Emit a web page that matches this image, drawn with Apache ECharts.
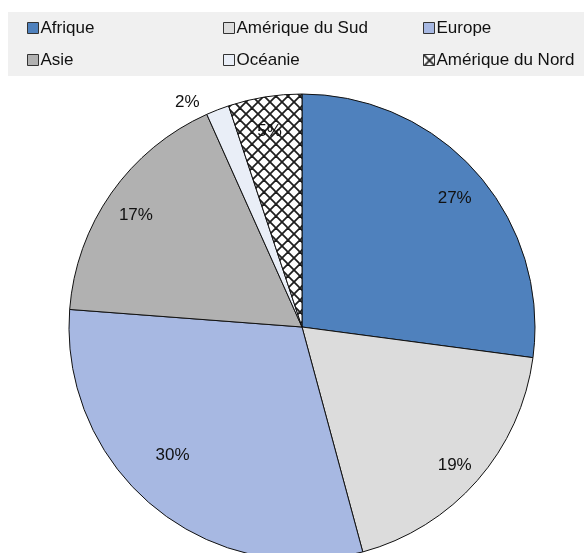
<!DOCTYPE html>
<html>
<head>
<meta charset="utf-8">
<script src="https://cdn.jsdelivr.net/npm/echarts@6/dist/echarts.min.js"></script>
<style>
html,body{margin:0;padding:0;background:#fff}
#chart{width:584px;height:553px}
</style>
</head>
<body>
<div id="chart"></div>
<script>
const regions=['Afrique','Amérique du Sud','Europe','Asie','Océanie','Amérique du Nord'];
const shares=[27.1,18.7,30.4,17.1,1.6,5.1];
const colors=['#4F81BD','#DCDCDC','#A7B8E2','#B1B1B1','#E9EEF7',null];
const legendCols=[['Afrique','Asie'],['Amérique du Sud','Océanie'],['Europe','Amérique du Nord']];

function hatch(){
 let c=document.createElement('canvas');
 c.width=12;c.height=12;
 let g=c.getContext('2d');
 g.fillStyle='#fff';g.fillRect(0,0,12,12);
 g.strokeStyle='#1e1e1e';g.lineWidth=1.8;
 for(let k=-12;k<=12;k+=12){
  g.beginPath();g.moveTo(k-2,-2);g.lineTo(k+14,14);g.stroke();
  g.beginPath();g.moveTo(k+14,-2);g.lineTo(k-2,14);g.stroke();
 }
 return c;
}
const pattern={image:hatch(),repeat:'repeat'};

const font='Liberation Sans, Arial, sans-serif';
const pct=p=>Math.round(p.percent)+'%';

const mainData=regions.map((n,i)=>({
 name:n,value:shares[i],
 itemStyle:{color:colors[i]||pattern},
 label:{show:n==='Océanie'}
}));
const labelData=regions.map((n,i)=>({
 name:n,value:shares[i],
 label:{show:n!=='Océanie'}
}));

window.onload=function(){
 var c=echarts.init(document.getElementById('chart'));
 c.setOption({
  animation:false,
  graphic:[{type:'rect',z:-10,shape:{x:8,y:12,width:576,height:64},style:{fill:'#F0F0F0'}}],
  legend:legendCols.map((d,i)=>({
   data:d,orient:'vertical',left:[27,223,423][i],top:18,padding:0,
   itemWidth:11,itemHeight:11,itemGap:12,icon:'rect',
   itemStyle:{borderColor:'#333',borderWidth:1},
   textStyle:{fontFamily:font,fontSize:17,color:'#111',lineHeight:20,padding:[0,0,0,-3]}
  })),
  series:[{
   type:'pie',name:'main',center:[302,327],radius:233,startAngle:90,clockwise:true,
   avoidLabelOverlap:false,
   itemStyle:{borderColor:'#111',borderWidth:1},
   label:{position:'outside',formatter:pct,fontFamily:font,fontSize:17,color:'#111'},
   labelLine:{show:false,length:8,length2:10},
   data:mainData
  },{
   type:'pie',name:'labels',center:[302,327],radius:[0,400],startAngle:90,clockwise:true,
   silent:true,avoidLabelOverlap:false,
   itemStyle:{color:'rgba(0,0,0,0)',borderWidth:0},
   label:{position:'inside',formatter:pct,fontFamily:font,fontSize:17,color:'#111'},
   labelLine:{show:false},
   labelLayout:p=>regions[p.dataIndex]==='Europe'?{dy:-28}:{dy:5},
   data:labelData
  }]
 });
}
</script>
</body>
</html>
